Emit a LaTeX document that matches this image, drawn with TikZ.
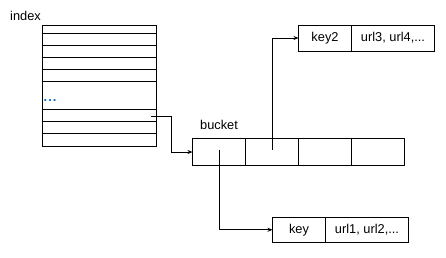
\documentclass[tikz,border=0pt]{standalone}
\usepackage{fontspec}
\setmainfont{Liberation Sans}
\usetikzlibrary{arrows.meta}
\begin{document}
\begin{tikzpicture}[x=1pt,y=-1pt,
  cell/.style={draw=black,line width=0.9pt,minimum height=26.5pt,inner sep=0pt,outer sep=0pt,anchor=north west},
  lbl/.style={inner sep=0pt,font=\fontsize{12.8}{14}\selectfont},
  link/.style={draw=black,line width=0.9pt,-{Stealth[length=5pt,width=4pt]}}]
\useasboundingbox (0,0) rectangle (446,257);
% index table
\node[lbl,anchor=west] (indexlbl) at (10,16) {index};
\node[draw=black,line width=0.9pt,minimum width=114pt,minimum height=121pt,inner sep=0pt,anchor=north west] (idx) at (41.5,25.3) {};
\foreach \y in {33.3,45.3,57.3,69.3,81.3,109.3,121.3,133.3}
  \draw[line width=0.9pt] (41.5,\y) -- (155.5,\y);
\node[lbl,anchor=base west,text={rgb,255:red,0;green,100;blue,210}] (dots) at (43.5,101) {\textbf{.\kern1pt.\kern1pt.}};
\coordinate (src) at (151,116.5);
% bucket array
\node[lbl,anchor=west] (bucketlbl) at (200,125) {bucket};
\node[cell,minimum width=53pt] (b1) at (192.5,138.5) {};
\node[cell,minimum width=53pt] (b2) at (245.5,138.5) {};
\node[cell,minimum width=53pt] (b3) at (298.5,138.5) {};
\node[cell,minimum width=53pt] (b4) at (351.5,138.5) {};
% entries
\node[cell,minimum width=53pt,minimum height=26pt] (k2) at (298.5,25) {};
\node[lbl] at (k2) {key2};
\node[cell,minimum width=83pt,minimum height=26pt] (v2) at (351.5,25) {};
\node[lbl] at (v2) {url3, url4,...};
\node[cell,minimum width=53pt,minimum height=25.5pt] (k1) at (272.5,217) {};
\node[lbl] at (k1) {key};
\node[cell,minimum width=83pt,minimum height=25.5pt] (v1) at (325.5,217) {};
\node[lbl] at (v1) {url1, url2,...};
% pointers
\draw[link] (src) -| (171,152) -- (b1.west |- 0,152);
\draw[link] (b1.center |- 0,150) |- (k1.west);
\draw[link] (b2.center |- 0,150) |- (k2.west |- 0,38);
\end{tikzpicture}
\end{document}
